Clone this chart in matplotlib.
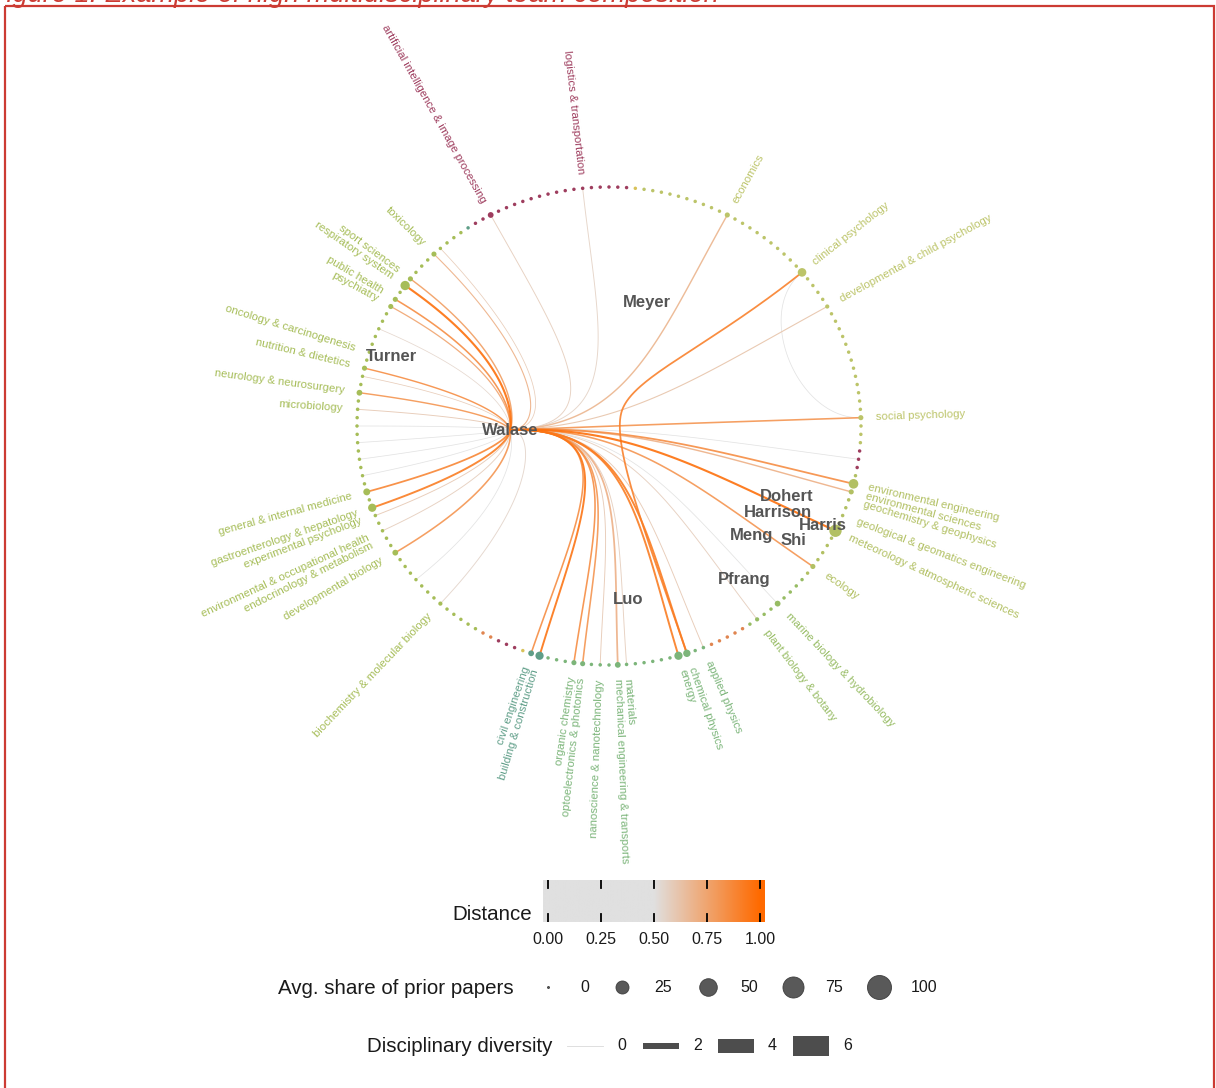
import numpy as np
import matplotlib
matplotlib.use("Agg")
import matplotlib.pyplot as plt
from matplotlib.colors import LinearSegmentedColormap
from matplotlib.patches import Rectangle

plt.rcParams["font.family"] = ["Liberation Sans", "DejaVu Sans"]

# ---- ring of disciplines (slots counted counter-clockwise from east) ----
N_SLOTS = 180
ring_groups = [("social", 42), ("yellow", 1), ("eng", 19), ("civ", 1), ("life", 57),
               ("orange", 2), ("eng", 3), ("yellow", 1), ("civ", 2), ("phys", 19),
               ("orange", 5), ("bio", 9), ("earth", 14), ("eng", 3), ("social", 2)]
group_colors = {"social": "#bcc469", "yellow": "#d8c25a", "eng": "#9e3d5e",
                "civ": "#5f9e88", "life": "#a6bd58", "orange": "#e08550",
                "phys": "#7cb57a", "bio": "#97bc64", "earth": "#b2c063"}

disciplines = ["social psychology", "developmental & child psychology", "clinical psychology",
               "economics", "logistics & transportation",
               "artificial intelligence & image processing", "toxicology", "sport sciences",
               "respiratory system", "public health", "psychiatry",
               "oncology & carcinogenesis", "nutrition & dietetics", "neurology & neurosurgery",
               "microbiology", "general & internal medicine", "gastroenterology & hepatology",
               "experimental psychology", "environmental & occupational health",
               "endocrinology & metabolism", "developmental biology",
               "biochemistry & molecular biology", "civil engineering", "building & construction",
               "organic chemistry", "optoelectronics & photonics", "nanoscience & nanotechnology",
               "mechanical engineering & transports", "materials", "energy", "chemical physics",
               "applied physics", "plant biology & botany", "marine biology & hydrobiology",
               "ecology", "meteorology & atmospheric sciences",
               "geological & geomatics engineering", "geochemistry & geophysics",
               "environmental sciences", "environmental engineering"]
disc_slot = [1, 15, 20, 31, 48, 59, 67, 71, 72, 74, 75, 81, 83, 86, 88, 98, 100, 101, 103,
             104, 106, 114, 126, 127, 131, 132, 134, 136, 137, 143, 144, 146, 153, 156, 162,
             167, 169, 171, 172, 173]
disc_share = [2, 1, 9, 2, 0.5, 3, 2, 2, 11, 2, 2, 0.5, 2, 3, 0.5, 5, 8, 0.5, 0.5, 0.5, 3,
              1, 3, 8, 2, 2, 0.5, 3, 0.5, 8, 6, 0.5, 1, 3, 2, 22, 0.5, 0.5, 2, 12]

# ---- authors (layout position inside the ring) ----
authors = ["Walase", "Meyer", "Turner", "Dohert", "Harrison", "Harris", "Meng", "Shi",
           "Pfrang", "Luo"]
author_x = [-0.393, 0.151, -0.865, 0.706, 0.671, 0.849, 0.567, 0.730, 0.536, 0.075]
author_y = [-0.017, 0.515, 0.289, -0.297, -0.360, -0.418, -0.460, -0.481, -0.644, -0.728]

# hub that long ring-to-ring edges are bundled through
bundle_hub = [0.05, 0.06]

# ---- edges ----
edge_from = ["Walase"] * 44 + ["clinical psychology", "clinical psychology"]
edge_to = ["artificial intelligence & image processing", "logistics & transportation",
           "toxicology", "sport sciences", "respiratory system", "public health", "psychiatry",
           "nutrition & dietetics", "neurology & neurosurgery", "microbiology", 78, 90, 92, 94,
           "general & internal medicine", "gastroenterology & hepatology",
           "experimental psychology", "environmental & occupational health",
           "developmental biology", "biochemistry & molecular biology", 110,
           "economics", "developmental & child psychology", "social psychology",
           "environmental engineering", "environmental sciences",
           "meteorology & atmospheric sciences", "ecology", "plant biology & botany",
           "marine biology & hydrobiology", "civil engineering", "building & construction",
           "organic chemistry", "optoelectronics & photonics", "nanoscience & nanotechnology",
           "mechanical engineering & transports", "materials", "energy", "chemical physics",
           "applied physics", 96, 84, 66, 176,
           "chemical physics", "social psychology"]
edge_dist = [0.58, 0.56, 0.70, 0.78, 0.97, 0.85, 0.75, 0.85, 0.82, 0.60, 0.55, 0.35, 0.3,
             0.3, 0.88, 0.92, 0.60, 0.58, 0.82, 0.55, 0.35, 0.68, 0.62, 0.82, 0.85, 0.70,
             0.97, 0.82, 0.58, 0.50, 0.85, 0.95, 0.85, 0.82, 0.60, 0.70, 0.58, 0.92, 0.92,
             0.60, 0.4, 0.6, 0.6, 0.3, 0.90, 0.30]
edge_div = [0.1, 0.1, 0.15, 0.25, 0.45, 0.3, 0.2, 0.25, 0.25, 0.1, 0.05, 0.05, 0.05, 0.05,
            0.35, 0.4, 0.1, 0.1, 0.3, 0.1, 0.05, 0.25, 0.15, 0.3, 0.35, 0.25, 0.45, 0.3,
            0.1, 0.05, 0.3, 0.4, 0.3, 0.3, 0.1, 0.35, 0.1, 0.4, 0.4, 0.1, 0.05, 0.05, 0.05,
            0.05, 0.35, 0.05]

# ---- legend keys ----
dist_ticks = [0.0, 0.25, 0.5, 0.75, 1.0]
share_keys = [0, 25, 50, 75, 100]
div_keys = [0, 2, 4, 6]

W, H = 1216, 1088
CX, CY, RX, RY = 609, 426, 252, 239

dist_cmap = LinearSegmentedColormap.from_list(
    "dist", [(0, "#e0e0e0"), (0.5, "#e0e0e0"), (1.0, "#ff6a00")])


def share_px(v):
    return 2 + 22 * np.sqrt(v / 100.0)


def div_px(v):
    return 0.6 + 3.35 * v


def slot_xy(slot):
    a = np.deg2rad(360.0 * slot / N_SLOTS)
    return np.array([np.cos(a), np.sin(a)])


def bezier(p0, p1, p2, p3, n=100):
    t = np.linspace(0, 1, n)[:, None]
    return ((1 - t) ** 3) * p0 + 3 * ((1 - t) ** 2) * t * p1 + 3 * (1 - t) * t ** 2 * p2 + t ** 3 * p3


def node_pos(name):
    if isinstance(name, str):
        if name in authors:
            i = authors.index(name)
            return np.array([author_x[i], author_y[i]]), True
        return slot_xy(disc_slot[disciplines.index(name)]), False
    return slot_xy(name), False


def edge_path(p0, a0, p3):
    if a0:
        d = p3 - p0
        d = d / np.linalg.norm(d)
        hub = -p0 / np.linalg.norm(p0)
        t = np.clip((np.dot(d, hub) + 0.5) / 0.5, 0, 1)
        return bezier(p0, p0 * (1 - 1.2 * t), p3 * 0.4, p3)
    cosang = np.clip(np.dot(p0, p3), -1, 1)
    angdist = np.degrees(np.arccos(cosang))
    if angdist < 90:
        f = 1 - angdist / 150
        return bezier(p0, p0 * f, p3 * f, p3)
    m = np.array(bundle_hub)
    v = (p3 - p0) / np.linalg.norm(p3 - p0) * 0.15
    s1 = bezier(p0, p0 * 0.5, m - v, m)
    s2 = bezier(m, m + v, p3 * 0.5, p3)
    return np.vstack([s1, s2])


fig = plt.figure(figsize=(W / 100, H / 100), dpi=100)
ax = fig.add_axes([0, 0, 1, 1])
ax.set_xlim(-CX / RX, (W - CX) / RX)
ax.set_ylim(-(H - CY) / RY, CY / RY)
ax.axis("off")

# ring colours and sizes
slot_color = []
for g, n in ring_groups:
    slot_color += [group_colors[g]] * n
slot_share = [0.45] * N_SLOTS
for s, v in zip(disc_slot, disc_share):
    slot_share[s] = v

# edges (draw light ones first)
order = np.argsort(edge_dist)
for k in order:
    p0, a0 = node_pos(edge_from[k])
    p3, _ = node_pos(edge_to[k])
    pts = edge_path(p0, a0, p3)
    ax.plot(pts[:, 0], pts[:, 1], color=dist_cmap(edge_dist[k]),
            lw=div_px(edge_div[k]) * 0.72, alpha=0.9, solid_capstyle="round", zorder=2)

# ring nodes
ang = np.deg2rad(360.0 * np.arange(N_SLOTS) / N_SLOTS)
sizes = [(share_px(v) * 0.72) ** 2 for v in slot_share]
ax.scatter(np.cos(ang), np.sin(ang), s=sizes, c=slot_color, linewidths=0, zorder=3)

# discipline labels
for name, s in zip(disciplines, disc_slot):
    a = np.deg2rad(360.0 * s / N_SLOTS)
    rot = np.degrees(np.arctan2(RY * np.sin(a), RX * np.cos(a)))
    col = slot_color[s]
    r = 1.06
    if np.cos(a) >= -1e-9:
        ha = "left"
    else:
        ha = "right"
        rot = rot + 180 if rot < 0 else rot - 180
    ax.text(r * np.cos(a), r * np.sin(a), name, rotation=rot, rotation_mode="anchor",
            ha=ha, va="center", fontsize=8.2, color=col, zorder=4)

# author names
for name, x, y in zip(authors, author_x, author_y):
    ax.text(x, y, name, ha="center", va="center", fontsize=12, fontweight="bold",
            color="#555555", zorder=6)

# ---- overlay in pixel units for legends & frame ----
ov = fig.add_axes([0, 0, 1, 1], facecolor="none")
ov.set_xlim(0, W)
ov.set_ylim(H, 0)
ov.axis("off")

ov.add_patch(Rectangle((5, 6), 1209, 1095, fill=False, edgecolor="#cc3b33", lw=1.6,
                       clip_on=False))
fig.text(-0.008, 1 - 2.0 / H, "Figure 1: Example of high multidisciplinary team composition",
         color="#cc3b33", style="italic", fontsize=19.5, va="baseline")

# colour bar
x0, x1 = 548, 760
bar_l, bar_r, bar_t, bar_b = 543, 765, 880, 922
cb = fig.add_axes([bar_l / W, 1 - bar_b / H, (bar_r - bar_l) / W, (bar_b - bar_t) / H])
lo = (bar_l - x0) / (x1 - x0)
hi = (bar_r - x0) / (x1 - x0)
grad = np.linspace(lo, hi, 400)[None, :]
cb.imshow(grad, extent=[lo, hi, 0, 1], aspect="auto", cmap=dist_cmap, vmin=0, vmax=1)
for v in dist_ticks:
    cb.plot([v, v], [0.8, 1.0], color="black", lw=1.3)
    cb.plot([v, v], [0.0, 0.2], color="black", lw=1.3)
    ov.text(x0 + v * (x1 - x0), 939, f"{v:.2f}", ha="center", va="center", fontsize=11.5,
            color="#1a1a1a")
cb.set_xlim(lo, hi)
cb.set_ylim(0, 1)
cb.axis("off")
ov.text(532, 915, "Distance", ha="right", va="center", fontsize=14.8, color="#1a1a1a")

# size legend
ov.text(514, 988, "Avg. share of prior papers", ha="right", va="center", fontsize=14.8,
        color="#1a1a1a")
key_x = [548, 622, 708, 793, 879]
for v, kx in zip(share_keys, key_x):
    ov.scatter([kx], [987], s=(share_px(v) * 0.72) ** 2, color="#595959",
               edgecolors="#3d3d3d", linewidths=0.6)
    ov.text(kx + 32, 987, str(v), ha="left", va="center", fontsize=11.5, color="#1a1a1a")

# line-width legend
ov.text(552, 1047, "Disciplinary diversity", ha="right", va="center", fontsize=14.8,
        color="#1a1a1a")
key_x = [585, 661, 736, 811]
for v, kx in zip(div_keys, key_x):
    if v == 0:
        ov.plot([kx - 18, kx + 18], [1046, 1046], color="#d9d9d9", lw=0.6)
    else:
        h = div_px(v) - 0.6
        ov.add_patch(Rectangle((kx - 18, 1046 - h / 2), 36, h, color="#4d4d4d", lw=0))
    ov.text(kx + 32, 1046, str(v), ha="left", va="center", fontsize=11.5, color="#1a1a1a")

fig.savefig("out.png", dpi=100)
